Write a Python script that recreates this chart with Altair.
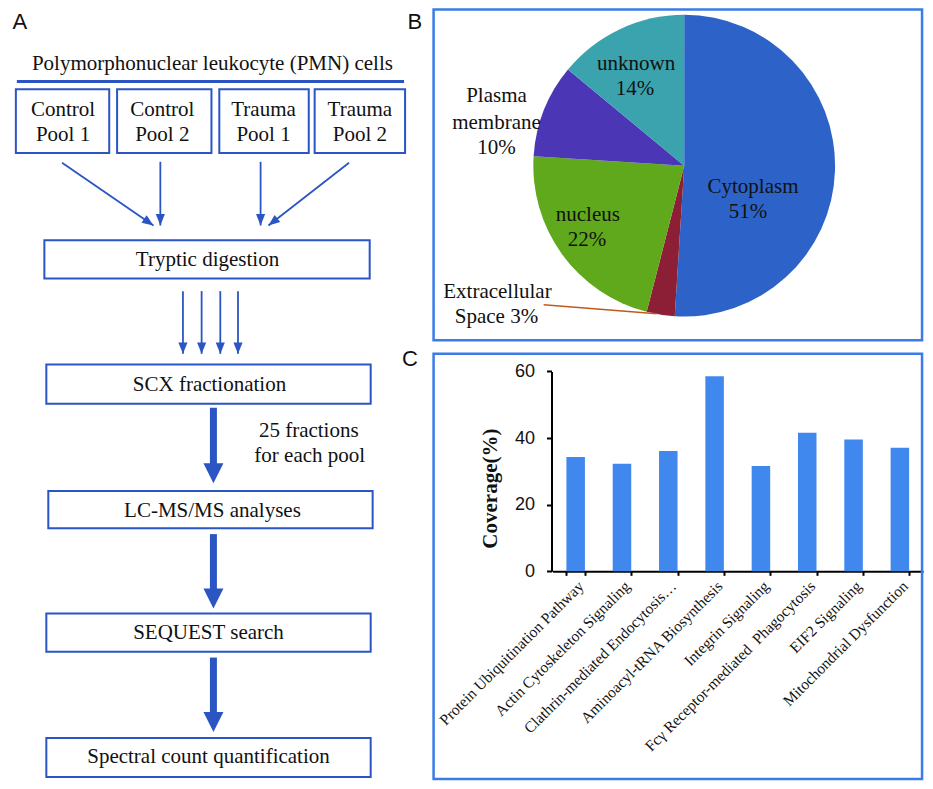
import math
import altair as alt
import pandas as pd

# ---------------- data ----------------
# Panel A : flow chart
box_x0 = [8, 111, 215, 312, 37, 39, 41, 39, 39]
box_y0 = [83, 83, 83, 83, 237, 364, 493, 618, 745]
box_x1 = [103, 207, 306, 404, 368, 369, 371, 369, 369]
box_y1 = [148, 148, 148, 148, 276, 404, 531, 657, 785]

flow_text = ["Polymorphonuclear leukocyte (PMN) cells",
             "Control", "Pool 1", "Control", "Pool 2",
             "Trauma", "Pool 1", "Trauma", "Pool 2",
             "Tryptic digestion", "SCX fractionation",
             "25 fractions", "for each pool",
             "LC-MS/MS analyses", "SEQUEST search",
             "Spectral count quantification"]
flow_tx = [208, 56, 56, 157, 157, 260, 260, 358, 358, 203, 205, 306, 307, 208, 204, 204]
flow_ty = [57, 104, 130, 104, 130, 104, 130, 104, 130, 257, 385, 432, 457, 513, 638, 765]

thin_x0 = [55, 155, 257, 347, 178, 197, 216, 234]
thin_y0 = [158, 157, 157, 158, 289, 289, 289, 289]
thin_x1 = [148, 155, 257, 265, 178, 197, 216, 234]
thin_y1 = [222, 222, 222, 222, 353, 353, 353, 353]

thick_x = [209, 209, 209]
thick_y0 = [408, 537, 663]
thick_y1 = [485, 613, 739]

# Panel B : pie chart
regions = ["Cytoplasm", "Extracellular Space", "nucleus", "Plasma membrane", "unknown"]
region_pct = [51, 3, 22, 10, 14]
region_colors = ["#2D63C9", "#8C1F36", "#60A81C", "#4B36B6", "#3BA3AD"]

pie_lbl = ["unknown", "14%", "Plasma", "membrane", "10%", "Cytoplasm", "51%",
           "nucleus", "22%", "Extracellular", "Space 3%"]
pie_lx = [639, 638, 497, 497, 497, 758, 753, 590, 589, 498, 497]
pie_ly = [57, 83, 90, 117, 143, 183, 208, 211, 237, 290, 315]

# Panel C : bar chart
pathways = ["Protein Ubiquitination Pathway", "Actin Cytoskeleton Signaling",
            "Clathrin-mediated Endocytosis\u2026", "Aminoacyl-tRNA Biosynthesis",
            "Integrin Signaling", "Fc\u03b3 Receptor-mediated\u00a0 Phagocytosis",
            "EIF2 Signaling", "Mitochondrial Dysfunction"]
coverage = [34.3, 32.3, 36.1, 58.6, 31.6, 41.6, 39.6, 37.1]

# panel labels / frames
panel_lbl = ["A", "B", "C"]
panel_lx = [12, 414, 409]
panel_ly = [14, 14, 358]
frame_x0 = [433, 433]
frame_y0 = [1.5, 353]
frame_x1 = [930, 930]
frame_y1 = [339, 787]

# ---------------- layout helpers ----------------
W, H = 917, 773
SX, SY = W / 933, H / 789

XS = alt.Scale(domain=[0, 933], range=[0, W], nice=False, zero=False)
YS = alt.Scale(domain=[0, 789], range=[0, H], nice=False, zero=False)

FLOW = "#2A55C3"
FRAME = "#3B7BE8"
SERIF = "Liberation Serif"
SANS = "Liberation Sans"


def xq(f):
    return alt.X(f, type="quantitative", scale=XS, axis=None)


def yq(f):
    return alt.Y(f, type="quantitative", scale=YS, axis=None)


def head_angle(x0, y0, x1, y1):
    return (math.degrees(math.atan2(-(x1 - x0), (y1 - y0)))) % 360


boxes = pd.DataFrame({"x0": box_x0, "y0": box_y0, "x1": box_x1, "y1": box_y1})
ftext = pd.DataFrame({"t": flow_text, "x": flow_tx, "y": flow_ty})
thin = pd.DataFrame({"x0": thin_x0, "y0": thin_y0, "x1": thin_x1, "y1": thin_y1})
thin["ang"] = [head_angle(a, b, c, d) for a, b, c, d in zip(thin_x0, thin_y0, thin_x1, thin_y1)]
thick = pd.DataFrame({"x": thick_x, "y0": thick_y0, "y1": thick_y1})
thick["ys"] = thick["y1"] - 8
pie = pd.DataFrame({"region": regions, "pct": region_pct, "idx": list(range(len(regions)))})
pielab = pd.DataFrame({"t": pie_lbl, "x": pie_lx, "y": pie_ly})
bars = pd.DataFrame({"pathway": pathways, "coverage": coverage})
plab = pd.DataFrame({"t": panel_lbl, "x": panel_lx, "y": panel_ly})
frames = pd.DataFrame({"x0": frame_x0, "y0": frame_y0, "x1": frame_x1, "y1": frame_y1})
underline = pd.DataFrame({"x0": [9], "x1": [403], "y": [75]})
leader = pd.DataFrame({"x0": [545], "y0": [303], "x1": [660], "y1": [312]})

# ---------------- diagram layers ----------------
frame_layer = alt.Chart(frames).mark_rect(fill="transparent", stroke=FRAME, strokeWidth=2.5).encode(
    x=xq("x0"), y=yq("y0"), x2="x1", y2="y1")

box_layer = alt.Chart(boxes).mark_rect(fill="transparent", stroke=FLOW, strokeWidth=2).encode(
    x=xq("x0"), y=yq("y0"), x2="x1", y2="y1")

underline_layer = alt.Chart(underline).mark_rule(color=FLOW, strokeWidth=3).encode(
    x=xq("x0"), x2="x1", y=yq("y"))

thin_layer = alt.Chart(thin).mark_rule(color=FLOW, strokeWidth=1.8).encode(
    x=xq("x0"), y=yq("y0"), x2="x1", y2="y1")

thin_head = alt.Chart(thin).mark_point(
    shape="M0,0L-0.8,-2L0.8,-2Z", filled=True, color=FLOW, size=130, opacity=1, strokeWidth=0
).encode(x=xq("x1"), y=yq("y1"), angle=alt.Angle("ang:Q", scale=None))

thick_layer = alt.Chart(thick).mark_rule(color=FLOW, strokeWidth=7).encode(
    x=xq("x"), y=yq("y0"), y2="ys")

thick_head = alt.Chart(thick).mark_point(
    shape="M0,0L-1,-2L1,-2Z", filled=True, color=FLOW, size=400, opacity=1, strokeWidth=0
).encode(x=xq("x"), y=yq("y1"))

flow_text_layer = alt.Chart(ftext).mark_text(
    font=SERIF, fontSize=21, color="#111111", baseline="middle", align="center"
).encode(x=xq("x"), y=yq("y"), text="t:N")

panel_text_layer = alt.Chart(plab).mark_text(
    font=SANS, fontSize=22, color="#111111", baseline="middle", align="center"
).encode(x=xq("x"), y=yq("y"), text="t:N")

pie_layer = alt.Chart(pie).mark_arc(outerRadius=154 * SY).encode(
    theta=alt.Theta("pct:Q", stack=True),
    order=alt.Order("idx:Q"),
    color=alt.Color("region:N", scale=alt.Scale(domain=regions, range=region_colors), legend=None),
    x=alt.X(datum=688, type="quantitative", scale=XS, axis=None),
    y=alt.Y(datum=161, type="quantitative", scale=YS, axis=None),
)

leader_layer = alt.Chart(leader).mark_rule(color="#C05A1C", strokeWidth=1.5).encode(
    x=xq("x0"), y=yq("y0"), x2="x1", y2="y1")

pie_text_layer = alt.Chart(pielab).mark_text(
    font=SERIF, fontSize=21, color="#111111", baseline="middle", align="center"
).encode(x=xq("x"), y=yq("y"), text="t:N")

diagram = alt.layer(
    frame_layer, box_layer, underline_layer, thin_layer, thin_head, thick_layer, thick_head,
    flow_text_layer, panel_text_layer, pie_layer, leader_layer, pie_text_layer
)

# ---------------- bar chart layer ----------------
bar_layer = alt.Chart(bars).mark_bar(color="#4188EE").encode(
    x=alt.X("pathway:N", sort=None, title=None,
            scale=alt.Scale(range=[554 * SX, 931 * SX], paddingInner=0.6, paddingOuter=0.3),
            axis=alt.Axis(orient="bottom", offset=575 * SY - H, labelAngle=315,
                          labelFont=SERIF, labelFontSize=15.5, labelColor="#111111",
                          labelLimit=400, labelOverlap=False, labelPadding=3,
                          domainColor="#000000", domainWidth=2, tickColor="#000000",
                          tickWidth=2, tickSize=4, tickBand="extent", grid=False)),
    y=alt.Y("coverage:Q", title="Coverage(%)",
            scale=alt.Scale(domain=[0, 60], range=[575 * SY, 371 * SY], nice=False),
            axis=alt.Axis(orient="left", offset=-553 * SX, values=[0, 20, 40, 60],
                          labelFont=SANS, labelFontSize=18, labelColor="#111111",
                          labelPadding=12, labelOverlap=False,
                          domainColor="#000000", domainWidth=2, tickColor="#000000",
                          tickWidth=2, tickSize=5, grid=False,
                          titleFont=SERIF, titleFontSize=21, titleFontWeight="bold",
                          titleColor="#111111", titlePadding=14, titleY=490 * SY)),
)

chart = alt.layer(diagram, bar_layer).resolve_scale(
    x="independent", y="independent"
).properties(
    width=W, height=H, padding=0,
    autosize=alt.AutoSizeParams(type="none"),
    background="white",
).configure_view(stroke=None)

chart.save("out.html", embed_options={"renderer": "svg", "actions": False})
